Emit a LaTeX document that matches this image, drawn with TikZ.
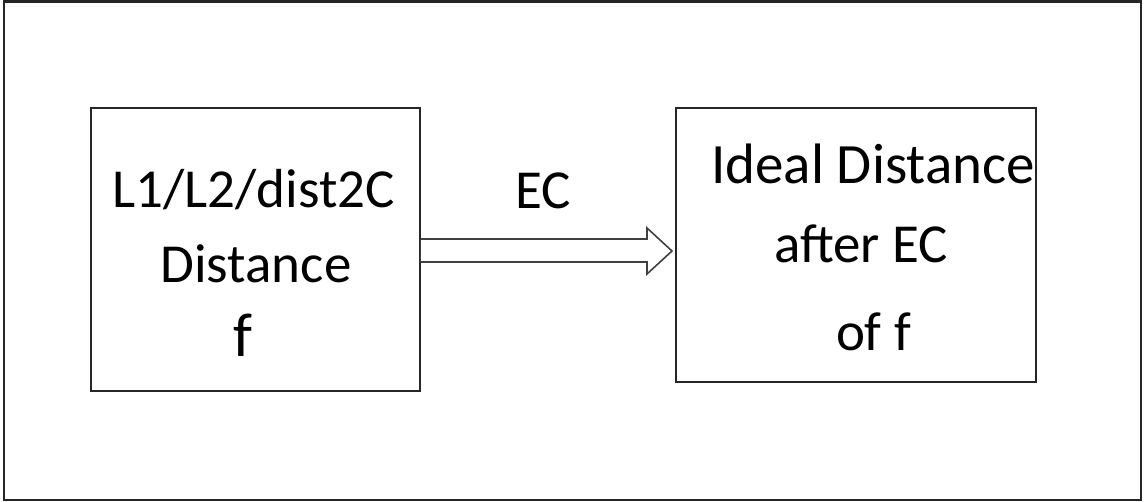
\documentclass[tikz,border=0pt]{standalone}
\usepackage{fontspec}
\setmainfont{Carlito}
\begin{document}
\begin{tikzpicture}[x=1pt,y=-1pt,
  frame/.style={draw=black!85,line width=2.6pt},
  box/.style={draw=black!85,line width=1.8pt,inner sep=0pt},
  lbl/.style={anchor=base,inner sep=0pt,font=\fontsize{55}{66}\selectfont},
  blockarrow/.style={draw=black!75,line width=1.6pt,fill=white,line join=miter}]
\useasboundingbox (0,0) rectangle (1144,502);
\draw[frame] (4,1.5) rectangle (1141,500);
% source and target boxes
\node[box,minimum width=329pt,minimum height=283pt] (src) at (255.5,249.5) {};
\node[box,minimum width=360pt,minimum height=274pt] (dst) at (856,245) {};
% labels in the boxes
\node[lbl] (s1) at (253.5,208) {L1/L2/dist2C};
\node[lbl] (s2) at (256,283) {Distance};
\node[lbl,font=\fontsize{62}{70}\selectfont] (s3) at (243,357) {f};
\node[lbl,font=\fontsize{57}{66}\selectfont] (d1) at (873,184) {Ideal Distance};
\node[lbl] (d2) at (861,263) {after EC};
\node[lbl] (d3) at (873.5,351) {of f};
% hollow block arrow
\coordinate (a0) at (src.east |- 0,239);
\coordinate (a1) at (src.east |- 0,262);
\coordinate (tip) at (672,251);
\draw[blockarrow] (a0) -- (647,239) -- (647,228) -- (tip) -- (647,274) -- (647,262) -- (a1);
\node[lbl] (ec) at (543.5,209) {EC};
\end{tikzpicture}
\end{document}
